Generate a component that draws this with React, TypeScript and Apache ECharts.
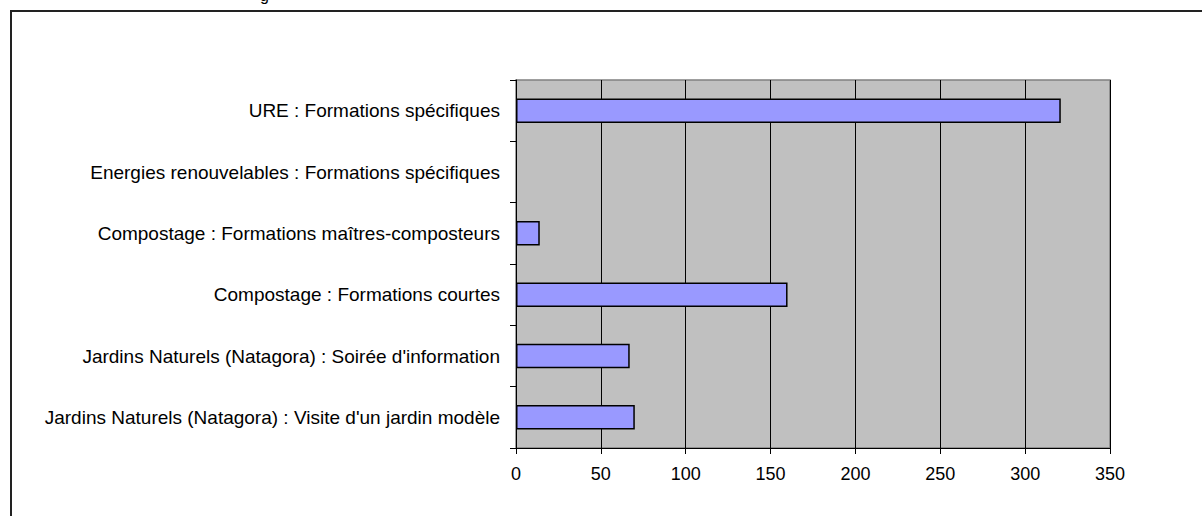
import React, { useEffect, useRef } from "react";
import * as echarts from "echarts";

const categories = [
  "URE : Formations spécifiques",
  "Energies renouvelables : Formations spécifiques",
  "Compostage : Formations maîtres-composteurs",
  "Compostage : Formations courtes",
  "Jardins Naturels (Natagora) : Soirée d'information",
  "Jardins Naturels (Natagora) : Visite d'un jardin modèle",
];
const values = [321, 0, 14, 160, 67, 70];
const xTicks = { min: 0, max: 350, interval: 50 };

const FONT = "'Liberation Sans', Arial, sans-serif";

export default function App() {
  const ref = useRef<HTMLDivElement>(null);
  useEffect(() => {
    if (!ref.current) return;
    const chart = echarts.init(ref.current, undefined, { renderer: "svg" });
    chart.setOption({
      animation: false,
      backgroundColor: "#ffffff",
      textStyle: { fontFamily: FONT },
      grid: {
        left: 516,
        top: 80,
        width: 594,
        height: 368,
        show: true,
        backgroundColor: "#C0C0C0",
        borderColor: "#808080",
        borderWidth: 1.5,
        containLabel: false,
      },
      xAxis: {
        type: "value",
        min: xTicks.min,
        max: xTicks.max,
        interval: xTicks.interval,
        axisLine: { show: true, onZero: false, lineStyle: { color: "#000", width: 1 } },
        axisTick: { show: true, length: 6, lineStyle: { color: "#000" } },
        axisLabel: { color: "#000", fontSize: 18, fontFamily: FONT, margin: 17 },
        splitLine: { show: true, lineStyle: { color: "#000", width: 1 } },
      },
      yAxis: {
        type: "category",
        data: categories,
        inverse: true,
        axisLine: { show: true, lineStyle: { color: "#000", width: 1 } },
        axisTick: { show: true, length: 6, lineStyle: { color: "#000" } },
        axisLabel: { color: "#000", fontSize: 19, fontFamily: FONT, margin: 16 },
        splitLine: { show: false },
      },
      series: [
        {
          type: "bar",
          data: values.map((v) => (v === 0 ? "-" : v)),
          barWidth: "40%",
          itemStyle: { color: "#9999FF", borderColor: "#000", borderWidth: 1.5 },
        },
      ],
      graphic: [
        {
          type: "rect",
          shape: { x: 11, y: 11, width: 1400, height: 700 },
          style: { fill: "none", stroke: "#222", lineWidth: 2 },
          silent: true,
        },
        {
          type: "text",
          x: 260,
          y: -13,
          style: { text: "g", fill: "#000", font: `16px ${FONT}` },
          silent: true,
        },
      ],
    });
    return () => chart.dispose();
  }, []);
  return (
    <div
      ref={ref}
      style={{ position: "fixed", left: 0, top: 0, width: 1202, height: 516 }}
    />
  );
}
